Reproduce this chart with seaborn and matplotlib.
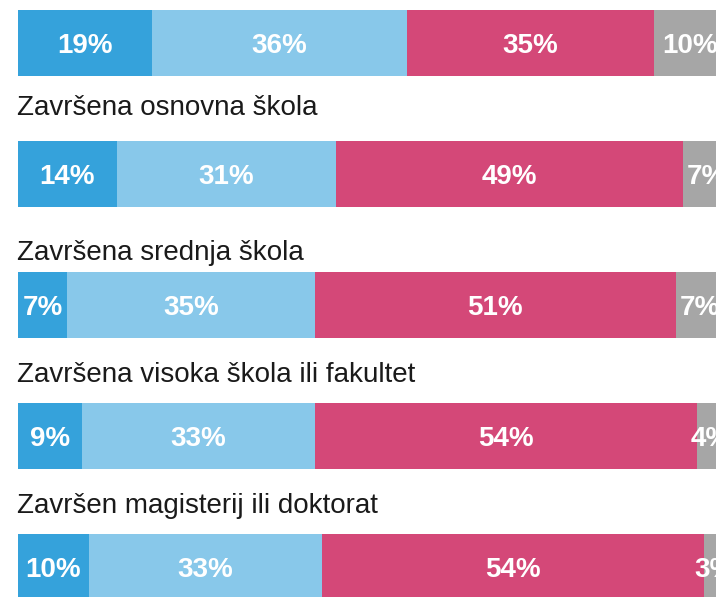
"""Stacked horizontal bars by education level (cropped view)."""

import matplotlib

matplotlib.use("Agg")
import matplotlib.pyplot as plt
import numpy as np
import pandas as pd
import seaborn as sns

# data: first row's label is outside the visible crop
row_labels = [
    "",
    "Završena osnovna škola",
    "Završena srednja škola",
    "Završena visoka škola ili fakultet",
    "Završen magisterij ili doktorat",
]
seg_a = [19, 14, 7, 9, 10]
seg_b = [36, 31, 35, 33, 33]
seg_c = [35, 49, 51, 54, 54]
seg_d = [10, 7, 7, 4, 3]

colors = ["#35a2db", "#88c8ea", "#d44878", "#a6a6a6"]

# layout (pixels at dpi 100)
PX_PER_PCT = 7.07
LEFT_PX = 18
ROW_PX = 131
BAR_PX = 66
FIRST_CENTER_PX = 43
label_gap_px = [0, 26, 12, 21, 21]

sns.set_theme(style="white")
plt.rcParams["font.family"] = ["Liberation Sans Narrow", "Liberation Sans", "DejaVu Sans"]

segments = np.array([seg_a, seg_b, seg_c, seg_d], dtype=float)
cum = segments.cumsum(axis=0)
row_ids = [f"r{i}" for i in range(len(row_labels))]

fig = plt.figure(figsize=(7.16, 5.97), dpi=100)
ax = fig.add_axes([0, 0, 1, 1])

bar_h = BAR_PX / ROW_PX
# draw cumulative totals from the longest down so the pieces look stacked
for k in range(len(segments) - 1, -1, -1):
    df = pd.DataFrame({"value": cum[k], "row": row_ids})
    sns.barplot(
        data=df, x="value", y="row", order=row_ids, orient="h",
        color=colors[k], saturation=1, width=bar_h, errorbar=None,
        linewidth=0, ax=ax,
    )

# percentage labels
for k in range(len(segments)):
    start = cum[k] - segments[k]
    for i, v in enumerate(segments[k]):
        ax.text(
            start[i] + v / 2, i + 10 / ROW_PX, f"{int(v)}%",
            ha="center", va="baseline", color="white",
            fontsize=20, fontweight="bold", clip_on=True,
        )

# category labels above each bar
for i, lab in enumerate(row_labels):
    if not lab:
        continue
    ax.text(
        -1 / PX_PER_PCT, i - bar_h / 2 - label_gap_px[i] / ROW_PX, lab,
        ha="left", va="baseline", color="#1a1a1a", fontsize=20,
    )

ax.set_xlim(-LEFT_PX / PX_PER_PCT, (716 - LEFT_PX) / PX_PER_PCT)
ax.set_ylim((597 - FIRST_CENTER_PX) / ROW_PX, -FIRST_CENTER_PX / ROW_PX)
ax.axis("off")

fig.savefig("out.png", dpi=100)
plt.close(fig)
